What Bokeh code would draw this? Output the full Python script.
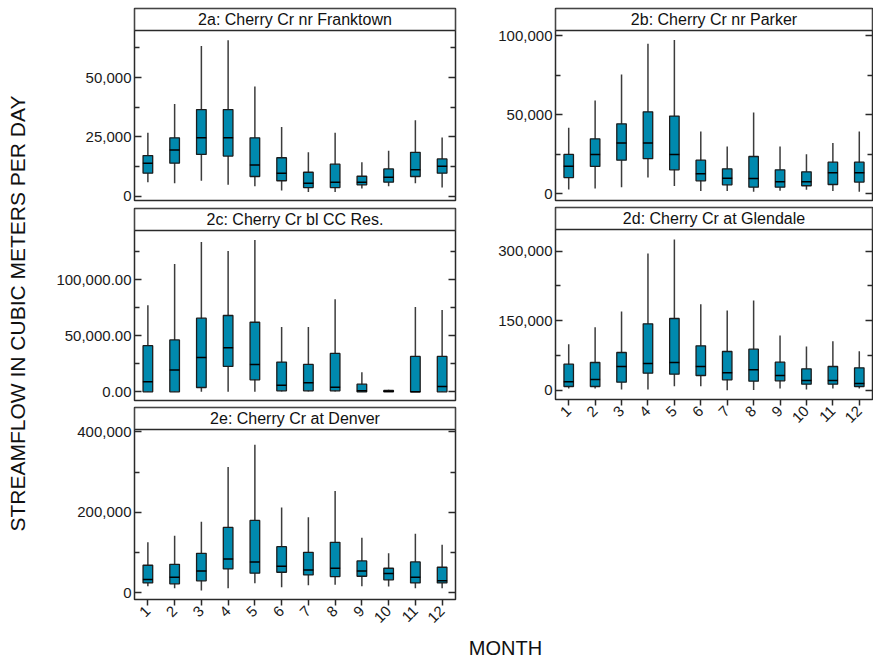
import math

from bokeh.core.properties import value
from bokeh.embed import file_html
from bokeh.layouts import column, row
from bokeh.models import (BoxAnnotation, ColumnDataSource, CustomJSTickFormatter,
                          FixedTicker, Label, LinearAxis, NumeralTickFormatter,
                          Range1d)
from bokeh.plotting import figure
from bokeh.resources import INLINE

# ---------------------------------------------------------------------------
# Monthly streamflow statistics (cubic meters per day), Cherry Creek stations
# ---------------------------------------------------------------------------
months = [1, 2, 3, 4, 5, 6, 7, 8, 9, 10, 11, 12]
month_labels = [str(m) for m in months]

franktown_low = [5900, 5500, 6500, 4800, 4200, 2400, 1800, 1800, 3200, 4200, 5500, 3650]
franktown_q1 = [9700, 13900, 17600, 16900, 8300, 6500, 3650, 3650, 4800, 5900, 8300, 9700]
franktown_med = [13900, 19500, 24600, 24600, 13100, 9700, 5500, 5900, 5900, 8000, 11100, 12600]
franktown_q3 = [17100, 24600, 36500, 36500, 24600, 16200, 10100, 13500, 8400, 11500, 18500, 15700]
franktown_high = [26700, 38800, 63300, 65700, 46200, 29200, 18500, 26700, 14300, 19100, 32000, 24700]

parker_low = [2700, 3400, 4200, 10300, 4900, 1700, 1700, 1300, 1900, 2500, 1700, 1300]
parker_q1 = [10300, 17300, 21300, 22200, 15200, 8200, 5700, 4200, 4200, 5100, 5900, 7400]
parker_med = [17500, 24900, 32100, 32100, 24900, 12700, 9900, 9700, 7600, 7600, 13300, 13300]
parker_q3 = [24900, 34800, 44300, 51900, 49200, 21300, 15800, 23600, 15200, 13900, 20000, 20000]
parker_high = [41800, 59100, 75500, 94900, 97300, 39500, 30000, 51500, 30000, 25100, 32100, 39500]

ccres_low = [0, 0, 0, 0, 0, 300, 300, 300, 0, 0, 0, 0]
ccres_q1 = [0, 0, 3900, 22700, 10700, 900, 900, 900, 0, 0, 0, 0]
ccres_med = [9000, 19400, 30700, 39400, 24500, 6000, 8100, 4200, 900, 500, 0, 4800]
ccres_q3 = [41200, 46300, 65700, 68100, 62100, 26600, 24500, 34300, 6900, 1200, 31600, 31600]
ccres_high = [77300, 114000, 133700, 125700, 135500, 57900, 57900, 82700, 17600, 1800, 75800, 73100]

glendale_low = [4300, 4300, 2200, 2200, 9300, 9300, 700, 1000, 4300, 2200, 4300, 4300]
glendale_q1 = [8600, 8600, 17900, 37300, 35200, 32300, 23000, 20100, 20800, 13600, 13600, 8600]
glendale_med = [18700, 23700, 51700, 58100, 60300, 51700, 38000, 44500, 32300, 21500, 21500, 15100]
glendale_q3 = [56700, 60300, 81800, 143500, 155000, 96200, 84000, 89000, 61000, 46700, 51700, 48800]
glendale_high = [99800, 136400, 170100, 295000, 325100, 185900, 172200, 193800, 118400, 94700, 106200, 84700]

denver_low = [16500, 11500, 5800, 11500, 23900, 14000, 19000, 19800, 16500, 15700, 11500, 11500]
denver_q1 = [24700, 22300, 29700, 59400, 48700, 51100, 44500, 40400, 41200, 32200, 24700, 24700]
denver_med = [33000, 38800, 54400, 84100, 76700, 66000, 56900, 61000, 54400, 47800, 38800, 29700]
denver_q3 = [68500, 70900, 98100, 162500, 179800, 114600, 100600, 125400, 79200, 61000, 76700, 63500]
denver_high = [125400, 141900, 176500, 312600, 367800, 212000, 188000, 253200, 136900, 98100, 146800, 119600]

# ---------------------------------------------------------------------------
# Styling
# ---------------------------------------------------------------------------
FONT = "Liberation Sans"
BOX_FILL = "#0089AE"
BOX_LINE = "#1c1c1c"
WHISKER = "#3c3c3c"
FRAME = "#2a2a2a"

PLOT_PX = 170   # height of the data area of each panel
STRIP_PX = 22   # height of the title strip on top of each panel


def panel(title, low, q1, med, q3, high, y_start, y_top, major, minor,
          fmt, frame_w, borders, show_x):
    left, right, top, bottom = borders
    units_per_px = (y_top - y_start) / PLOT_PX
    y_end = y_top + STRIP_PX * units_per_px

    p = figure(frame_width=frame_w, frame_height=PLOT_PX + STRIP_PX,
               x_range=Range1d(0.5, 12.5), y_range=Range1d(y_start, y_end),
               output_backend="svg", toolbar_location=None,
               x_axis_location="below" if show_x else None,
               min_border_left=left, min_border_right=right,
               min_border_top=top, min_border_bottom=bottom)
    p.grid.visible = False
    p.outline_line_color = FRAME
    p.outline_line_width = 1.5

    src = ColumnDataSource(dict(m=months, low=low, q1=q1, med=med, q3=q3, high=high))
    p.segment(x0="m", y0="low", x1="m", y1="high", source=src,
              line_color=WHISKER, line_width=1.5)
    p.vbar(x="m", bottom="q1", top="q3", width=0.36, source=src,
           fill_color=BOX_FILL, line_color=BOX_LINE, line_width=1.3)
    p.scatter(x="m", y="med", source=src, marker="dash", size=10,
              line_color="black", line_width=1.5)

    ticker = FixedTicker(ticks=major, minor_ticks=minor)

    yax = p.yaxis[0]
    yax.ticker = ticker
    yax.formatter = NumeralTickFormatter(format=fmt)
    yax.axis_line_color = None
    yax.major_tick_in = 7
    yax.major_tick_out = 0
    yax.minor_tick_in = 5
    yax.minor_tick_out = 0
    yax.major_tick_line_color = FRAME
    yax.minor_tick_line_color = FRAME
    yax.major_tick_line_width = 1.5
    yax.minor_tick_line_width = 1.5
    yax.major_label_standoff = 3
    yax.major_label_text_font = FONT
    yax.major_label_text_font_size = "15px"
    yax.major_label_text_color = "#1a1a1a"

    rax = LinearAxis(ticker=ticker,
                     formatter=CustomJSTickFormatter(code="return ''"),
                     axis_line_color=None, major_tick_in=7, major_tick_out=0,
                     minor_tick_in=5, minor_tick_out=0,
                     major_tick_line_color=FRAME, minor_tick_line_color=FRAME,
                     major_tick_line_width=1.5, minor_tick_line_width=1.5,
                     major_label_standoff=0)
    p.add_layout(rax, "right")

    if show_x:
        xax = p.xaxis[0]
        xax.ticker = FixedTicker(ticks=months, minor_ticks=[])
        xax.major_label_overrides = {m: s for m, s in zip(months, month_labels)}
        xax.axis_line_color = None
        xax.major_tick_in = 0
        xax.major_tick_out = 6
        xax.major_tick_line_color = FRAME
        xax.major_tick_line_width = 1.5
        xax.major_label_orientation = math.pi / 4
        xax.major_label_standoff = 3
        xax.major_label_text_font = FONT
        xax.major_label_text_font_size = "15px"
        xax.major_label_text_color = "#1a1a1a"

    # title strip
    p.add_layout(BoxAnnotation(bottom=y_top, fill_color="white", fill_alpha=1.0,
                               line_color=FRAME, line_width=1.5, line_alpha=1.0))
    p.add_layout(Label(x=6.5, y=y_top + STRIP_PX * units_per_px / 2, text=title,
                       text_align="center", text_baseline="middle",
                       text_font=FONT, text_font_size="16px",
                       text_color="#111111"))
    return p


LEFT_W = 321
RIGHT_W = 317

pa = panel("2a: Cherry Cr nr Franktown", franktown_low, franktown_q1, franktown_med,
           franktown_q3, franktown_high, -1812, 69822,
           [0, 25000, 50000], [12500, 37500, 62500], "0,0",
           LEFT_W, (94, 40, 8, 4), False)
pc = panel("2c: Cherry Cr bl CC Res.", ccres_low, ccres_q1, ccres_med,
           ccres_q3, ccres_high, -7702, 143919,
           [0, 50000, 100000], [25000, 75000, 125000], "0,0.00",
           LEFT_W, (94, 40, 4, 3), False)
pe = panel("2e: Cherry Cr at Denver", denver_low, denver_q1, denver_med,
           denver_q3, denver_high, -16578, 405742,
           [0, 200000, 400000], [100000, 300000], "0,0",
           LEFT_W, (94, 40, 4, 36), True)

pb = panel("2b: Cherry Cr nr Parker", parker_low, parker_q1, parker_med,
           parker_q3, parker_high, -4241, 103354,
           [0, 50000, 100000], [25000, 75000], "0,0",
           RIGHT_W, (60, 1, 8, 3), False)
pd = panel("2d: Cherry Cr at Glendale", glendale_low, glendale_q1, glendale_med,
           glendale_q3, glendale_high, -19377, 346628,
           [0, 150000, 300000], [75000, 225000], "0,0",
           RIGHT_W, (60, 1, 4, 40), True)


def text_box(w, h, x, y, text, angle, size):
    f = figure(frame_width=w, frame_height=h, x_range=Range1d(0, w),
               y_range=Range1d(0, h), output_backend="svg",
               toolbar_location=None, x_axis_location=None, y_axis_location=None,
               min_border=0, outline_line_color=None)
    f.grid.visible = False
    f.text(x=[x], y=[y], text=[text], angle=angle, text_align="center",
           text_baseline="middle", text_font=value(FONT), text_font_size=size,
           text_color="#111111")
    return f


ylab = text_box(40, 635, 17, 322, "STREAMFLOW IN CUBIC METERS PER DAY", math.pi / 2, "21px")
xlab = text_box(873, 27, 505, 15, "MONTH", 0, "20px")

layout = column(row(ylab, column(pa, pc, pe), column(pb, pd)), xlab)

open("out.html", "w").write(file_html(layout, INLINE))
